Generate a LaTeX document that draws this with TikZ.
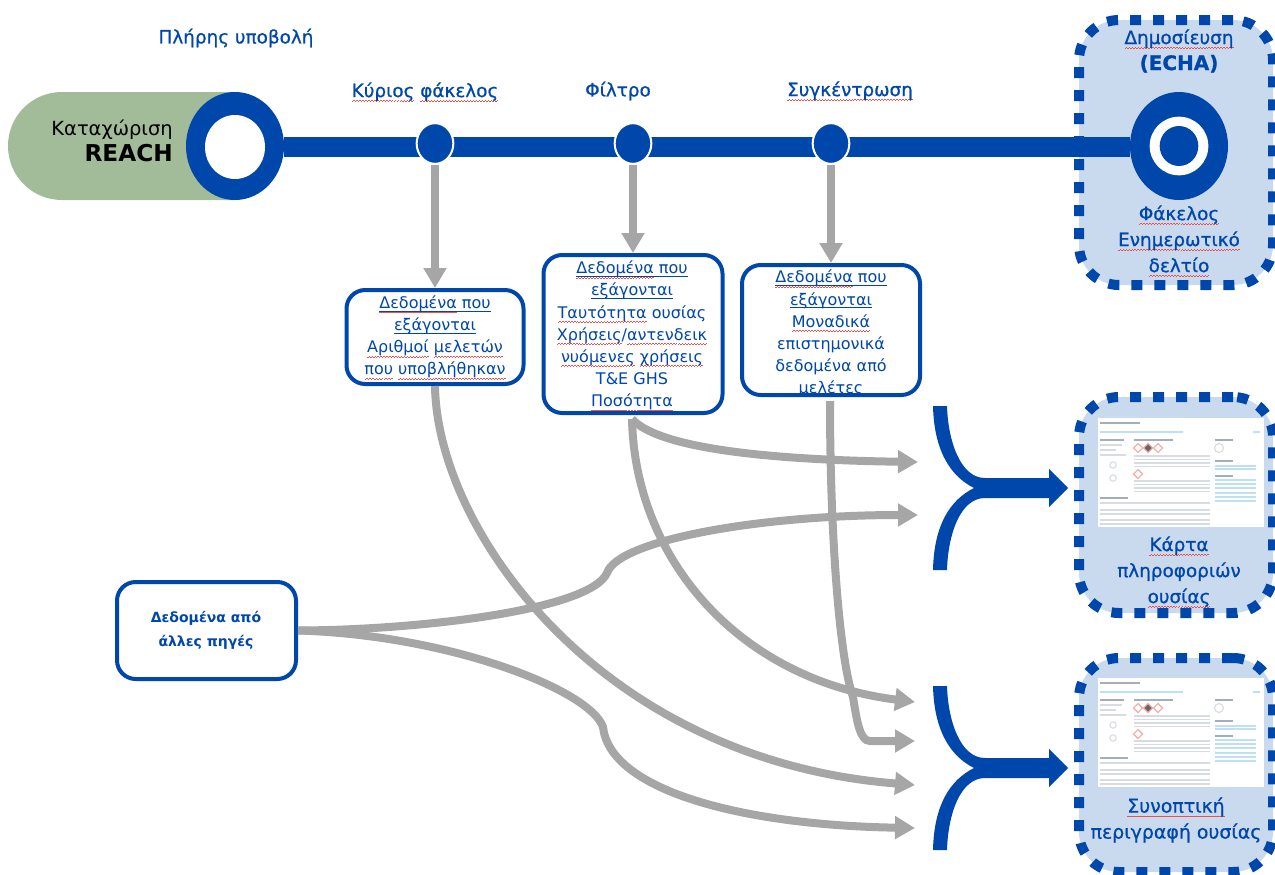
\documentclass[tikz,border=0pt]{standalone}
\usepackage{fontspec}
\setmainfont{DejaVu Sans}
\newfontfamily\semifont[FakeBold=0.8]{DejaVu Sans}
\usetikzlibrary{arrows.meta,shapes.geometric,backgrounds}
\definecolor{eblue}{HTML}{0047AB}
\definecolor{egray}{HTML}{A6A6A6}
\definecolor{egreen}{HTML}{A2BB98}
\definecolor{epanel}{HTML}{C9D9EE}
\definecolor{sqred}{HTML}{F0504A}
\definecolor{thline}{HTML}{D6DCE2}
\definecolor{thlink}{HTML}{BFE0F2}
\definecolor{thhead}{HTML}{A3AEB8}
\newsavebox\sqbox
\newsavebox\ulbox
\newcommand\sq[1]{\leavevmode\sbox\sqbox{#1}\rlap{\raisebox{-3.4pt}{\color{sqred}\hbox to\wd\sqbox{\xleaders\hbox{\rule{1.1pt}{.5pt}\rule[.6pt]{1.1pt}{.5pt}}\hfill}}}\usebox\sqbox}
\newcommand\ulx[1]{\leavevmode\sbox\ulbox{#1}\rlap{\color{eblue}\rule[-2.2pt]{\wd\ulbox}{.6pt}}\usebox\ulbox}
\tikzset{
  boxnode/.style={draw=eblue,line width=3pt,rounded corners=14pt,fill=white,inner sep=0pt},
  boxtext/.style={inner sep=0pt,align=center,text=eblue,font=\fontsize{12}{16.6}\selectfont},
  panelnode/.style={draw=eblue,fill=epanel,line width=7.5pt,rounded corners=30pt,inner sep=0pt,dash pattern=on 8.25pt off 9pt,minimum width=145.5pt},
  labelnode/.style={text=eblue,inner sep=0pt,align=center,font=\semifont\fontsize{13.8}{19.5}\selectfont},
  stopnode/.style={ellipse,fill=eblue,draw=white,line width=1.5pt,inner sep=0pt,minimum width=27.5pt,minimum height=30.5pt},
  blobnode/.style={ellipse,inner sep=0pt,outer sep=0pt},
  flow/.style={draw=egray,line width=6pt,-{Triangle[length=15pt,width=16.5pt]}},
  thl/.style={draw=thline,line width=.8pt},
  thk/.style={draw=thlink,line width=.8pt},
  thh/.style={draw=thhead,line width=.9pt},
  pics/fork/.style={code={
    \fill[eblue] (933,406) -- (947,406) .. controls (948,440) and (960,478) .. (985,478) -- (1049,478) -- (1049,469) -- (1068,488) -- (1049,507) -- (1049,498) -- (985,498) .. controls (960,498) and (948,535) .. (947,570) -- (933,570) .. controls (934,525) and (950,500) .. (974,488) .. controls (950,476) and (934,450) .. (933,406) -- cycle;
  }},
  pics/thumb/.style={code={
    \fill[white] (0,0) rectangle (166,109);
    \draw[thh] (2,5) -- (42,5);
    \draw[thk] (2,14) -- (85,14);
    \draw[thlink,line width=1.6pt] (155,14) -- (162,14);
    \draw[thh] (2,22) -- (26,22) (36,22) -- (75,22) (117,22) -- (135,22);
    \draw[thl] (2,27) -- (24,27) (2,32) -- (18,32) (2,37) -- (28,37);
    \draw[thl,fill=white] (15,47) circle (3.2) (15,60) circle (3.2);
    \draw[thl] (121,30) circle (4.5);
    \foreach \cx/\cy in {40/30,60/30,40/56}{\draw[sqred!50!white,line width=.8pt,fill=white] (\cx-4.5,\cy) -- (\cx,\cy-4.5) -- (\cx+4.5,\cy) -- (\cx,\cy+4.5) -- cycle;}
    \draw[sqred!50!white,line width=.8pt,fill=black!60] (45.5,30) -- (50,25.5) -- (54.5,30) -- (50,34.5) -- cycle;
    \foreach \ly in {38,41.5,45,48.5,63,66.5,70,73.5}{\draw[thl] (36,\ly) -- (112,\ly);}
    \draw[thh] (2,80) -- (30,80);
    \foreach \ly in {85,92,96,102,106}{\draw[thl] (2,\ly) -- (112,\ly);}
    \draw[thh] (117,43) -- (135,43) (117,58) -- (135,58);
    \foreach \ly in {48,51,62,66,70,75,79,83}{\draw[thk] (117,\ly) -- (158,\ly);}
  }}
}
\begin{document}
\begin{tikzpicture}[x=0.75pt,y=-0.75pt]
\useasboundingbox (0,0) rectangle (1275,875);
% panels and pill beneath everything
\begin{pgfonlayer}{background}
  \node[panelnode,minimum height=198.75pt] (p1) at (1176,152.5) {};
  \node[panelnode,minimum height=162pt] (p2) at (1176,505) {};
  \node[panelnode,minimum height=160.5pt] (p3) at (1176,765) {};
  \fill[egreen] (235,92) -- (62,92) .. controls (32,92) and (8,116) .. (8,146) .. controls (8,176) and (32,200) .. (62,200) -- (235,200) -- cycle;
\end{pgfonlayer}
% ring start and end
\node[blobnode,fill=eblue,minimum width=73.5pt,minimum height=81pt] (r1) at (235,146) {};
\node[blobnode,fill=white,minimum width=45pt,minimum height=48pt] (r1in) at (235,147) {};
\node[blobnode,fill=eblue,minimum width=73.5pt,minimum height=81pt] (r2) at (1179,146) {};
\node[blobnode,fill=white,minimum width=44pt,minimum height=44pt] (r2mid) at (1179,146) {};
\node[blobnode,fill=eblue,minimum width=29pt,minimum height=30pt] (r2in) at (1179,146) {};
\begin{pgfonlayer}{background}
  \draw[eblue,line width=15pt] ([yshift=-.75pt]r1.east) -- ([yshift=-.75pt]r2.west);
\end{pgfonlayer}
% stops
\node[stopnode] (c1) at (435,143.5) {};
\node[stopnode] (c2) at (633,143.5) {};
\node[stopnode] (c3) at (831,143.5) {};
% boxes
\node[boxnode,minimum width=132.75pt,minimum height=70.5pt] (b1) at (435,337) {};
\node[boxtext] (b1t) at (435,337.5) {\ulx{\sq{Δεδομένα} που}\\\ulx{εξάγονται}\\\sq{Αριθμοί} \sq{μελετών}\\\sq{που} \sq{υποβλήθηκαν}};
\node[boxnode,minimum width=134.25pt,minimum height=118.5pt] (b2) at (633,334) {};
\node[boxtext] (b2t) at (632,336) {\ulx{\sq{Δεδομένα} που}\\\ulx{εξάγονται}\\\sq{Ταυτότητα} ουσίας\\\sq{Χρήσεις}/\sq{αντενδεικ}\\\sq{νυόμενες} \sq{χρήσεις}\\T\&E GHS\\\sq{Ποσότητα}};
\node[boxnode,minimum width=133.5pt,minimum height=97.5pt] (b3) at (831,330) {};
\node[boxtext] (b3t) at (831,333.5) {\ulx{\sq{Δεδομένα} που}\\\ulx{εξάγονται}\\\sq{Μοναδικά}\\επιστημονικά\\δεδομένα από\\μελέτες};
\node[boxnode,minimum width=134.25pt,minimum height=72.75pt] (b4) at (206.5,630.5) {};
\node[boxtext,font=\bfseries\fontsize{10.5}{18}\selectfont] (b4t) at (206,630) {Δεδομένα από\\άλλες πηγές};
% texts
\node[text=black,inner sep=0pt,align=right,anchor=east,font=\fontsize{14.6}{20}\selectfont] (rtxt) at (173,141) {Καταχώριση\\{\bfseries\fontsize{17.4}{20}\selectfont REACH}};
\node[labelnode] (t0) at (236,38) {Πλήρης υποβολή};
\node[labelnode] (t1) at (425,92) {\sq{Κύριος} \sq{φάκελος}};
\node[labelnode] (t2) at (618,91) {Φίλτρο};
\node[labelnode] (t3) at (850,91) {\sq{Συγκέντρωση}};
\node[labelnode] (t4) at (1179,51) {\sq{Δημοσίευση}\\{\bfseries\fontsize{15}{19.5}\selectfont (ECHA)}};
\node[labelnode] (t5) at (1179,241) {\sq{Φάκελος}\\\sq{Ενημερωτικό}\\\sq{δελτίο}};
\node[labelnode] (t6) at (1179,572) {\sq{Κάρτα}\\πληροφοριών\\\sq{ουσίας}};
\node[labelnode,font=\semifont\fontsize{14.2}{19.5}\selectfont] (t7) at (1176,820) {\sq{Συνοπτική}\\περιγραφή ουσίας};
% thumbnails
\pic at (1098,418) {thumb};
\pic at (1098,678) {thumb};
% forks
\pic at (0,0) {fork};
\pic at (0,280) {fork};
% free ends
\coordinate (e1) at (918,462);
\coordinate (e2) at (918,515);
\coordinate (e3) at (915,702);
\coordinate (e4) at (915,741);
\coordinate (e5) at (915,785);
\coordinate (e6) at (915,828);
\coordinate (k1) at (607,573);
\coordinate (k2) at (603,727);
\coordinate (k3) at (853,697);
\coordinate (s2) at (632,419);
\coordinate (s3) at (830,401);
% connectors
\draw[flow] (c1.south) -- (b1.north);
\draw[flow] (c2.south) -- (b2.north);
\draw[flow] (c3.south) -- (b3.north);
\draw[flow] (b1.south) .. controls (437,530) and (600,760) .. (e5);
\draw[flow] (s2) .. controls (660,450) and (780,460) .. (e1);
\draw[flow] (s2) .. controls (635,560) and (740,680) .. (e3);
\draw[flow] (s3) .. controls (830,540) and (840,660) .. (k3) .. controls (857,722) and (860,741) .. (870,741) -- (e4);
\draw[flow] (b4.east) .. controls (420,630) and (590,610) .. (k1) .. controls (618,540) and (760,515) .. (e2);
\draw[flow] (b4.east) .. controls (450,635) and (590,690) .. (k2) .. controls (610,790) and (740,825) .. (e6);
\end{tikzpicture}
\end{document}
